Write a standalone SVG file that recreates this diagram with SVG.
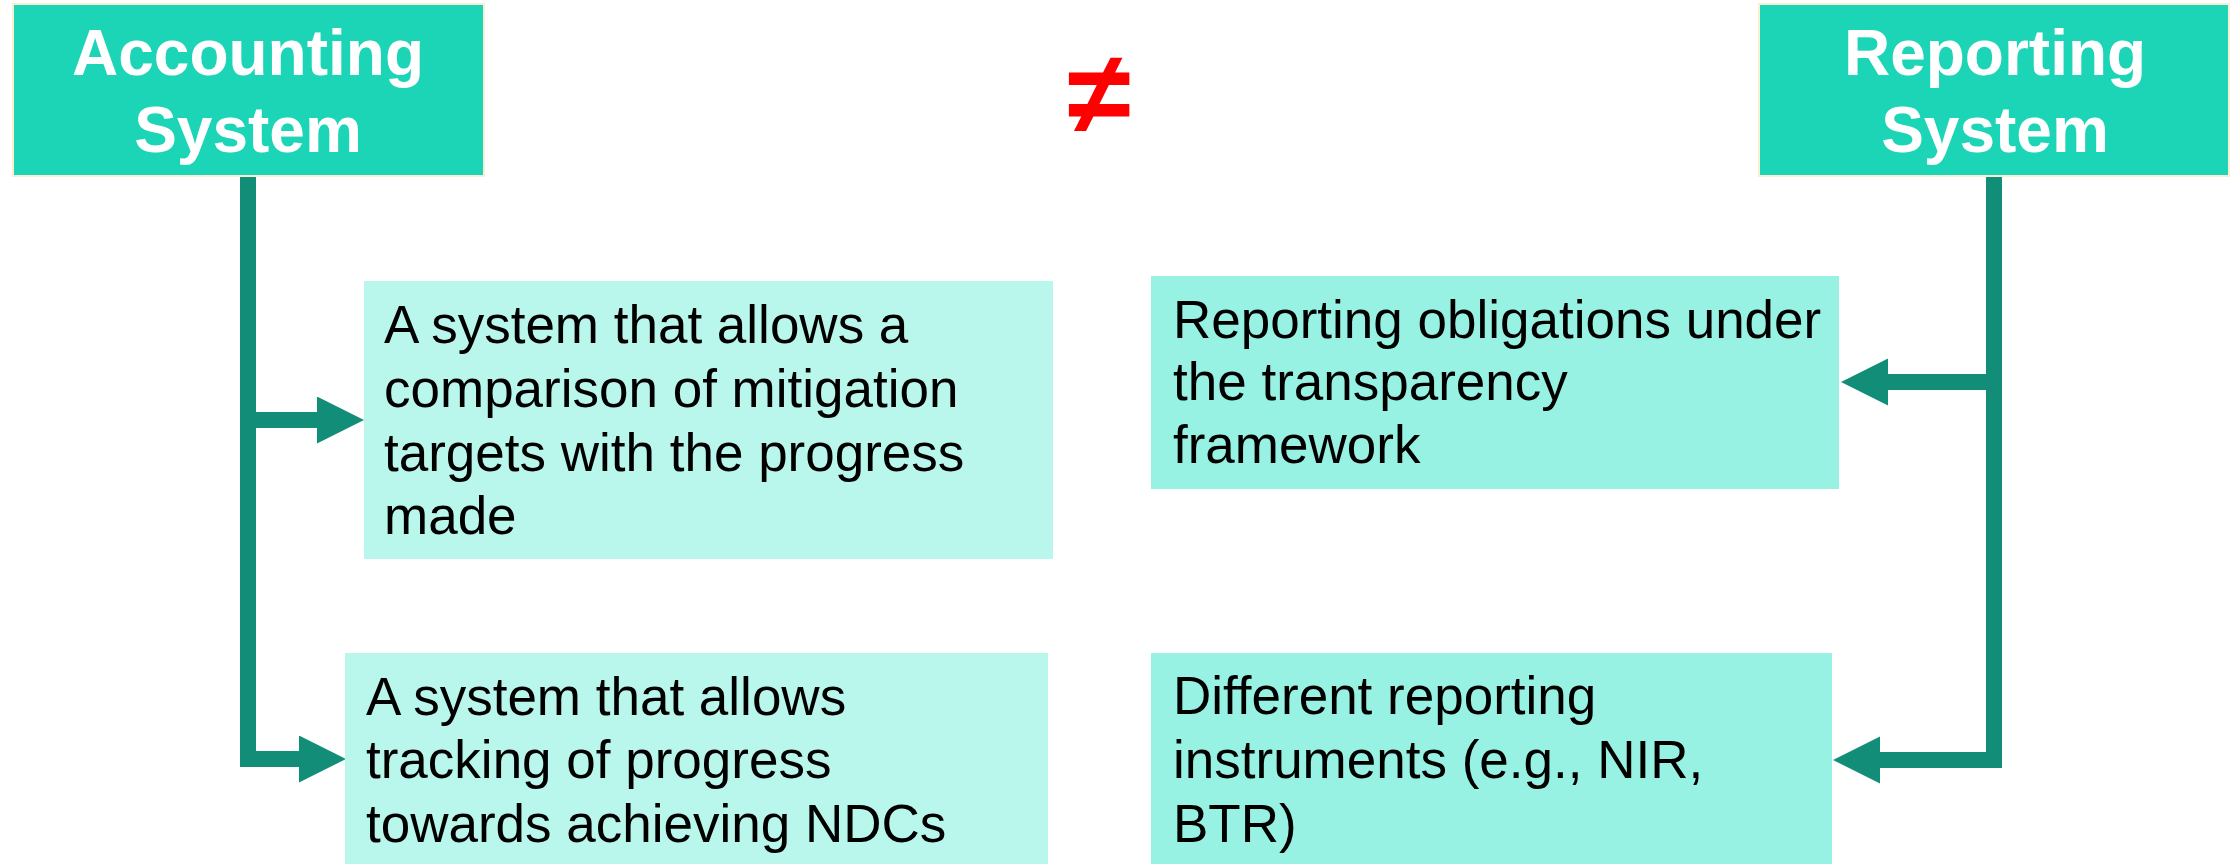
<svg xmlns="http://www.w3.org/2000/svg" width="2232" height="864" viewBox="0 0 2232 864">
<defs>
<style>
.title{fill:#1CD5B7;stroke:#FBEFD3;stroke-width:2}
.tt{font-family:"Liberation Sans",Arial,sans-serif;font-weight:bold;font-size:64px;fill:#FFFFFF;text-anchor:middle}
.bl{fill:#B9F6EC}
.br{fill:#98F2E3}
.bt{font-family:"Liberation Sans",Arial,sans-serif;font-size:53px;fill:#000000}
.conn{fill:none;stroke:#128E78;stroke-width:16;stroke-linejoin:miter;stroke-linecap:butt}
.neq{font-family:"Liberation Sans",Arial,sans-serif;font-weight:bold;font-size:116px;fill:#FF0000;text-anchor:middle}
</style>
<marker id="ah" markerUnits="userSpaceOnUse" markerWidth="48" markerHeight="48" viewBox="0 0 48 48" refX="0" refY="23.5" orient="auto">
<path d="M0,0 L47,23.5 L0,47 Z" fill="#128E78"/>
</marker>
</defs>
<rect width="2232" height="864" fill="#FFFFFF"/>
<g id="connectors">
<path class="conn" d="M248,176 V759 H299" marker-end="url(#ah)"/>
<path class="conn" d="M248,420 H317" marker-end="url(#ah)"/>
<path class="conn" d="M1994,176 V760 H1880" marker-end="url(#ah)"/>
<path class="conn" d="M1994,382 H1888" marker-end="url(#ah)"/>
</g>
<g id="accounting">
<rect class="title" x="13" y="4" width="471" height="172"/>
<text class="tt" x="248" y="75">Accounting</text>
<text class="tt" x="248" y="152">System</text>
</g>
<g id="reporting">
<rect class="title" x="1759" y="4" width="470" height="172"/>
<text class="tt" x="1995" y="75">Reporting</text>
<text class="tt" x="1995" y="152">System</text>
</g>
<g id="neq">
<text class="neq" x="1099" y="133">≠</text>
</g>
<g id="acc1">
<rect class="bl" x="364" y="281" width="689" height="278"/>
<text class="bt" x="384"><tspan x="384" y="343">A system that allows a</tspan><tspan x="384" y="407">comparison of mitigation</tspan><tspan x="384" y="471">targets with the progress</tspan><tspan x="384" y="534">made</tspan></text>
</g>
<g id="acc2">
<rect class="bl" x="345" y="653" width="703" height="211"/>
<text class="bt" x="366"><tspan x="366" y="715">A system that allows</tspan><tspan x="366" y="778">tracking of progress</tspan><tspan x="366" y="842">towards achieving NDCs</tspan></text>
</g>
<g id="rep1">
<rect class="br" x="1151" y="276" width="688" height="213"/>
<text class="bt" x="1173"><tspan x="1173" y="338">Reporting obligations under</tspan><tspan x="1173" y="400">the transparency</tspan><tspan x="1173" y="463">framework</tspan></text>
</g>
<g id="rep2">
<rect class="br" x="1151" y="653" width="681" height="211"/>
<text class="bt" x="1173"><tspan x="1173" y="714">Different reporting</tspan><tspan x="1173" y="778">instruments (e.g., NIR,</tspan><tspan x="1173" y="842">BTR)</tspan></text>
</g>
</svg>
